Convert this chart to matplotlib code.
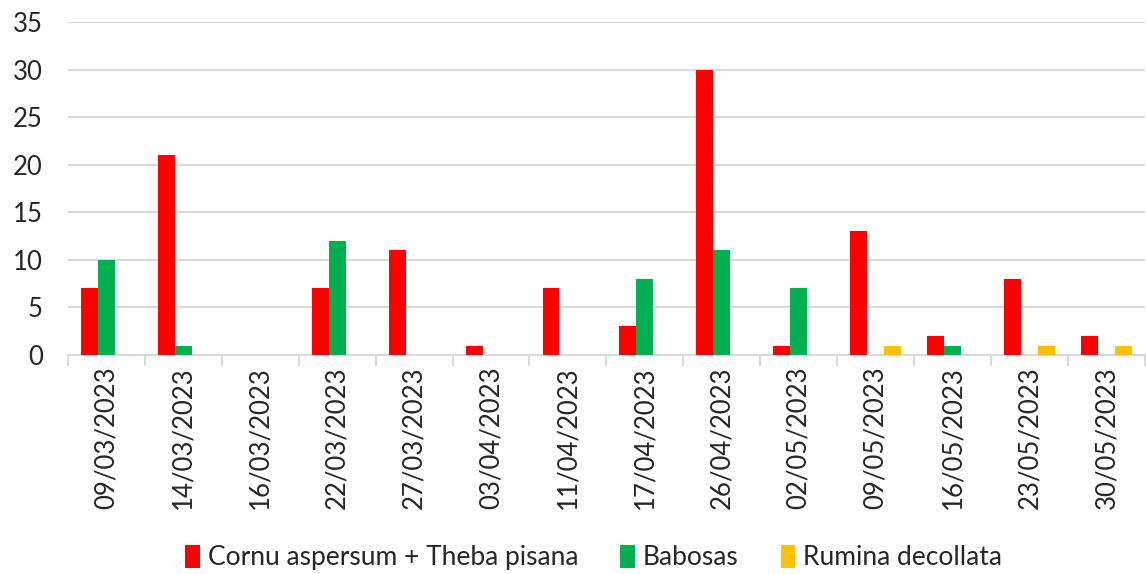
import matplotlib
matplotlib.use("Agg")
import matplotlib.pyplot as plt
import numpy as np

dates = ["09/03/2023", "14/03/2023", "16/03/2023", "22/03/2023", "27/03/2023",
         "03/04/2023", "11/04/2023", "17/04/2023", "26/04/2023", "02/05/2023",
         "09/05/2023", "16/05/2023", "23/05/2023", "30/05/2023"]
cornu_theba = [7, 21, 0, 7, 11, 1, 7, 3, 30, 1, 13, 2, 8, 2]
babosas = [10, 1, 0, 12, 0, 0, 0, 8, 11, 7, 0, 1, 0, 0]
rumina = [0, 0, 0, 0, 0, 0, 0, 0, 0, 0, 1, 0, 1, 1]

series = [
    ("Cornu aspersum + Theba pisana", cornu_theba, "#FF0000"),
    ("Babosas", babosas, "#00B050"),
    ("Rumina decollata", rumina, "#FFC000"),
]

plt.rcParams['font.family'] = ['Lato', 'DejaVu Sans']

fig = plt.figure(figsize=(11.46, 5.74), dpi=100)
ax = fig.add_axes([0.0593, 0.3815, 0.9397, 0.5802])

x = np.arange(len(dates))
w = 0.22
for i, (name, vals, col) in enumerate(series):
    ax.bar(x + (i - 1) * w, vals, width=w, color=col, label=name, zorder=3)

ax.set_xlim(-0.5, len(dates) - 0.5)
ax.set_ylim(0, 35)
ax.set_yticks(range(0, 36, 5))
ax.yaxis.grid(True, color="#D9D9D9", linewidth=1.5, zorder=0)
ax.set_axisbelow(True)

for s in ["top", "right", "left"]:
    ax.spines[s].set_visible(False)
ax.spines["bottom"].set_color("#D9D9D9")
ax.spines["bottom"].set_linewidth(1.5)

ax.set_xticks(x)
ax.set_xticklabels(dates, rotation=90, fontsize=18.5, color="#262626")
ax.tick_params(axis="x", length=0, pad=8)
ax.set_xticks(np.arange(-0.5, len(dates), 1), minor=True)
ax.tick_params(axis="x", which="minor", length=8, width=1.5, color="#D9D9D9")
ax.tick_params(axis="y", length=0, labelsize=18.5, labelcolor="#262626", pad=18)

fig.legend(loc="lower center", bbox_to_anchor=(0.518, -0.035), ncol=3, frameon=False,
           fontsize=19, handlelength=0.55, handleheight=0.95, handletextpad=0.3,
           columnspacing=1.6, labelcolor="#262626")

fig.savefig("out.png", dpi=100)
